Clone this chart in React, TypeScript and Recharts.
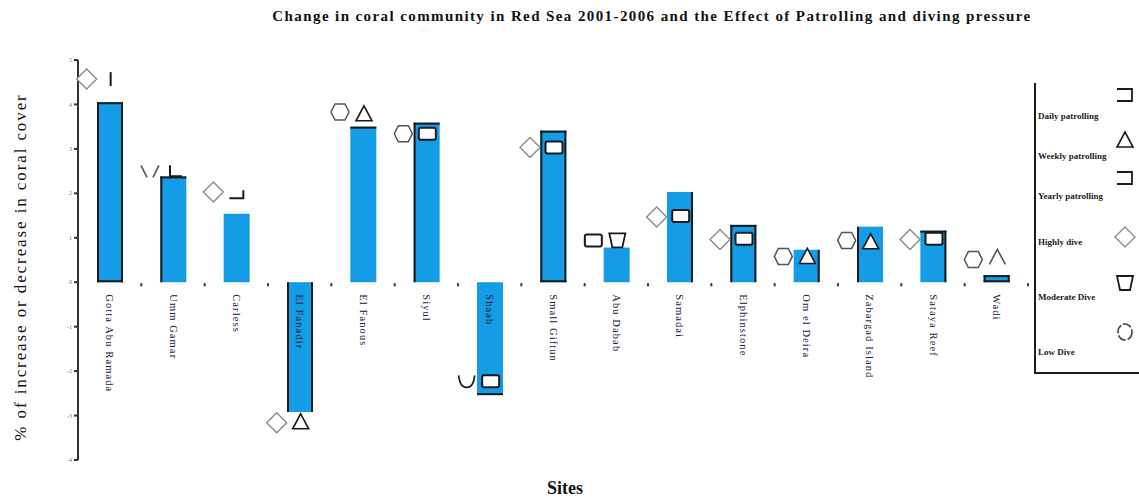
import React from "react";
import { ComposedChart, Bar, Scatter, XAxis, YAxis } from "recharts";

const SITES = [
  "Gotta Abu Ramada",
  "Umm Gamar",
  "Carless",
  "El Fanadir",
  "El Fanous",
  "Siyul",
  "Shaab",
  "Small Giftun",
  "Abu Dabab",
  "Samadai",
  "Elphinstone",
  "Om el Deira",
  "Zabargad Island",
  "Sataya Reef",
  "Wadi",
];
// % change in coral cover 2001-2006
const CHANGE = [4.05, 2.38, 1.54, -2.92, 3.5, 3.59, -2.54, 3.41, 0.78, 2.03, 1.29, 0.73, 1.25, 1.16, 0.16];
// diving pressure marker (left of bar) and its level
const DIVE_MARK = ["diamond", "vee", "diamond", "diamond", "hex", "hex", "smile", "diamond", "rect", "diamond", "diamond", "hex", "hex", "diamond", "hex"];
const DIVE_Y = [4.57, 2.47, 2.03, -3.16, 3.83, 3.34, -2.23, 3.03, 0.94, 1.47, 0.96, 0.58, 0.94, 0.96, 0.51];
// patrolling marker (right of dive marker) and its level
const PATROL_MARK = ["vline", "ell", "hook", "triangle", "triangle", "rect", "rect", "rect", "cup", "rect", "rect", "triangle", "triangle", "rect", "caret"];
const PATROL_Y = [4.57, 2.45, 1.98, -3.14, 3.79, 3.34, -2.23, 3.03, 0.94, 1.49, 0.98, 0.58, 0.91, 0.98, 0.56];

const Y_TICKS = [-4, -3, -2, -1, 0, 1, 2, 3, 4, 5];

const LEGEND_ITEMS = [
  { label: "Daily patrolling", kind: "bracket" },
  { label: "Weekly patrolling", kind: "triangle" },
  { label: "Yearly patrolling", kind: "bracket" },
  { label: "Highly  dive", kind: "diamond" },
  { label: "Moderate Dive", kind: "cup" },
  { label: "Low Dive", kind: "circle" },
];

// which sides of each bar carry a black edge in the original
const BAR_EDGES = ["ltrb", "lt", "", "lr", "t", "lt", "b", "ltrb", "", "r", "ltr", "r", "l", "tr", "ltrb"];

const data = SITES.map((site, i) => ({
  site,
  change: CHANGE[i],
  diveY: DIVE_Y[i],
  diveMark: DIVE_MARK[i],
  patrolY: PATROL_Y[i],
  patrolMark: PATROL_MARK[i],
  zero: 0,
}));

const BLUE = "#149de6";
const INK = "#1a1a1a";
const SERIF = "'Liberation Serif', 'DejaVu Serif', serif";

function Glyph({ kind, x, y }: { kind: string; x: number; y: number }) {
  switch (kind) {
    case "diamond":
      return <polygon points={`${x - 10},${y} ${x},${y - 10} ${x + 10},${y} ${x},${y + 10}`} fill="#fff" stroke="#8a8a8a" strokeWidth={1.4} />;
    case "hex":
      return <polygon points={`${x - 9},${y} ${x - 5},${y - 8} ${x + 5},${y - 8} ${x + 9},${y} ${x + 5},${y + 8} ${x - 5},${y + 8}`} fill="#fff" stroke="#555" strokeWidth={1.5} />;
    case "circle":
      return <ellipse cx={x} cy={y} rx={7} ry={8} fill="#fff" stroke="#444" strokeWidth={1.6} strokeDasharray="9 2" />;
    case "cup":
      return <polygon points={`${x - 8},${y - 7} ${x + 8},${y - 7} ${x + 5},${y + 7} ${x - 5},${y + 7}`} fill="#fff" stroke={INK} strokeWidth={1.8} />;
    case "rect":
      return <rect x={x - 8.5} y={y - 6} width={17} height={12} rx={2} fill="#fff" stroke={INK} strokeWidth={2} />;
    case "triangle":
      return <polygon points={`${x},${y - 8} ${x + 8},${y + 7} ${x - 8},${y + 7}`} fill="#fff" stroke={INK} strokeWidth={1.6} />;
    case "bracket":
      return <path d={`M${x - 8},${y - 6} H${x + 7} V${y + 6} H${x - 8}`} fill="none" stroke={INK} strokeWidth={1.8} />;
    case "vline":
      return <path d={`M${x},${y - 7} V${y + 7}`} stroke={INK} strokeWidth={2} />;
    case "ell":
      return <path d={`M${x - 4},${y - 8} V${y + 3} H${x + 8}`} fill="none" stroke={INK} strokeWidth={2} />;
    case "hook":
      return <path d={`M${x - 8},${y + 4} H${x + 6} V${y - 4}`} fill="none" stroke={INK} strokeWidth={2} />;
    case "vee":
      return <path d={`M${x - 9},${y - 7} L${x - 3},${y + 5} M${x + 3},${y + 5} L${x + 9},${y - 7}`} fill="none" stroke="#555" strokeWidth={1.6} />;
    case "caret":
      return <path d={`M${x - 8},${y + 7} L${x},${y - 8} L${x + 8},${y + 7}`} fill="none" stroke="#555" strokeWidth={1.6} />;
    case "smile":
      return <path d={`M${x - 8},${y - 6} Q${x - 7},${y + 6} ${x},${y + 6} Q${x + 7},${y + 6} ${x + 8},${y - 6}`} fill="none" stroke={INK} strokeWidth={1.6} />;
    default:
      return null;
  }
}

function EdgedBar(props: any) {
  const { x, y, width, height, index } = props;
  const top = Math.min(y, y + height);
  const h = Math.abs(height);
  const edges = BAR_EDGES[index] || "";
  const r = x + width;
  const b = top + h;
  return (
    <g>
      <rect x={x} y={top} width={width} height={h} fill={BLUE} />
      {edges.includes("l") && <line x1={x + 1} y1={top} x2={x + 1} y2={b} stroke={INK} strokeWidth={2} />}
      {edges.includes("r") && <line x1={r - 1} y1={top} x2={r - 1} y2={b} stroke={INK} strokeWidth={2} />}
      {edges.includes("t") && <line x1={x} y1={top + 1} x2={r} y2={top + 1} stroke={INK} strokeWidth={2} />}
      {edges.includes("b") && <line x1={x} y1={b - 1} x2={r} y2={b - 1} stroke={INK} strokeWidth={2} />}
    </g>
  );
}

const DIVE_DX = -23;
const PATROL_DX = 1;
const BAND = 950 / SITES.length;

function SiteLabel(props: any) {
  const { cx, cy, payload } = props;
  const ty = cy + 12;
  return (
    <g>
      <rect x={cx + BAND / 2 - 1} y={cy + 1} width={2} height={3} fill="#333" />
      <text
        x={cx}
        y={ty}
        transform={`rotate(90 ${cx} ${ty})`}
        fontSize={10.5}
        letterSpacing={1.1}
        fontFamily={SERIF}
        fill="#20203a"
        dominantBaseline="central"
        textAnchor="start"
      >
        {payload.site}
      </text>
    </g>
  );
}

function LegendBox() {
  const pos = [
    { ty: 36, gy: 12 },
    { ty: 76, gy: 57 },
    { ty: 116, gy: 95 },
    { ty: 162, gy: 154 },
    { ty: 217, gy: 200 },
    { ty: 272, gy: 249 },
  ];
  return (
    <svg width={105} height={292} style={{ position: "absolute", left: 1034, top: 83 }}>
      <line x1={1} y1={0} x2={1} y2={290} stroke={INK} strokeWidth={2} />
      <line x1={0} y1={290} x2={105} y2={290} stroke={INK} strokeWidth={2} />
      {LEGEND_ITEMS.map((it, i) => (
        <g key={it.label}>
          <text x={4} y={pos[i].ty} fontSize={9} fontWeight="bold" fontFamily={SERIF} fill="#222">
            {it.label}
          </text>
          <Glyph kind={it.kind} x={91} y={pos[i].gy} />
        </g>
      ))}
    </svg>
  );
}

export default function App() {
  return (
    <div style={{ position: "absolute", left: 0, top: 0, width: 1139, height: 497, background: "#fff" }}>
      <ComposedChart width={1139} height={497} data={data} margin={{ top: 60, right: 111, bottom: 37, left: 58 }}>
        <XAxis dataKey="site" hide />
        <YAxis
          domain={[-4, 5]}
          ticks={Y_TICKS}
          interval={0}
          width={20}
          tickSize={4}
          stroke="#333"
          strokeWidth={2}
          tick={{ fontSize: 6, fill: "#777", fontFamily: SERIF }}
        />
        <Bar dataKey="change" barSize={26} fill={BLUE} shape={<EdgedBar />} isAnimationActive={false} />
        <Scatter dataKey="zero" shape={<SiteLabel />} isAnimationActive={false} />
        <Scatter
          dataKey="diveY"
          isAnimationActive={false}
          shape={(p: any) => <Glyph kind={p.payload.diveMark} x={p.cx + DIVE_DX} y={p.cy} />}
        />
        <Scatter
          dataKey="patrolY"
          isAnimationActive={false}
          shape={(p: any) => <Glyph kind={p.payload.patrolMark} x={p.cx + PATROL_DX} y={p.cy} />}
        />
      </ComposedChart>
      <LegendBox />
      <svg width={1139} height={497} style={{ position: "absolute", left: 0, top: 0, pointerEvents: "none" }}>
        <text x={652} y={21} textAnchor="middle" fontSize={15} letterSpacing={1.4} fontWeight="bold" fontFamily={SERIF} fill="#111">
          Change in coral community  in Red Sea 2001-2006 and the Effect of Patrolling and diving pressure
        </text>
        <text
          x={20}
          y={267}
          textAnchor="middle"
          fontSize={17}
          letterSpacing={1.9}
          fontFamily={SERIF}
          fill="#111"
          transform="rotate(-90 20 267)"
          dominantBaseline="central"
        >
          % of increase or decrease in coral cover
        </text>
        <text x={565} y={494} textAnchor="middle" fontSize={18} fontWeight="bold" fontFamily={SERIF} fill="#111">
          Sites
        </text>
      </svg>
    </div>
  );
}
